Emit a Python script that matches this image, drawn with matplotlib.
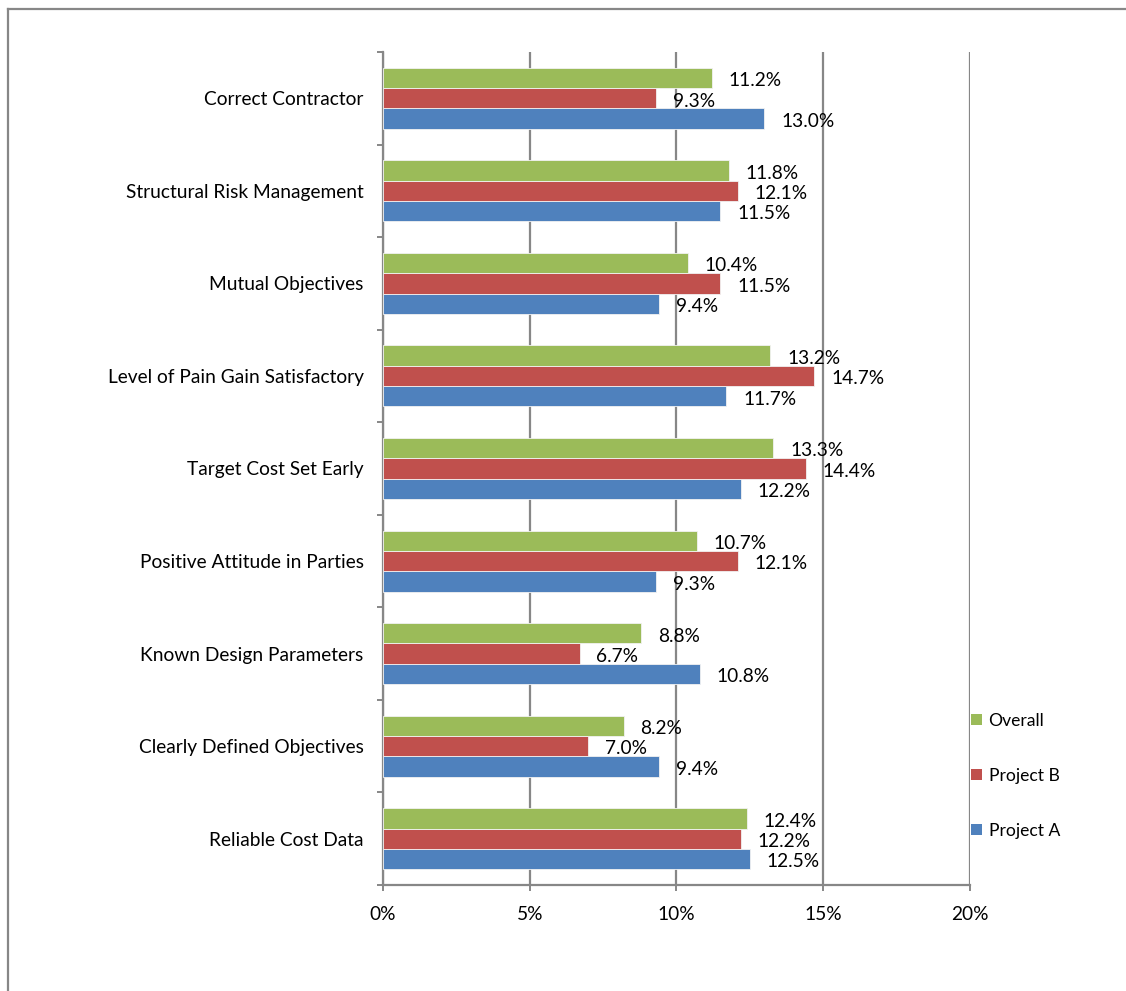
import matplotlib
matplotlib.use("Agg")
import matplotlib.pyplot as plt
from matplotlib.lines import Line2D
from matplotlib.patches import Patch
import numpy as np

# categories listed bottom to top, as drawn
categories = [
    "Reliable Cost Data",
    "Clearly Defined Objectives",
    "Known Design Parameters",
    "Positive Attitude in Parties",
    "Target Cost Set Early",
    "Level of Pain Gain Satisfactory",
    "Mutual Objectives",
    "Structural Risk Management",
    "Correct Contractor",
]
project_a = [12.5, 9.4, 10.8, 9.3, 12.2, 11.7, 9.4, 11.5, 13.0]
project_b = [12.2, 7.0, 6.7, 12.1, 14.4, 14.7, 11.5, 12.1, 9.3]
overall = [12.4, 8.2, 8.8, 10.7, 13.3, 13.2, 10.4, 11.8, 11.2]
x_ticks = [0, 5, 10, 15, 20]

plt.rcParams['font.family'] = ['Lato', 'DejaVu Sans']
FS = 13.8
GRAY = '#878787'

fig = plt.figure(figsize=(11.26, 9.91), dpi=100)
ax = fig.add_axes([0.3401, 0.1070, 0.5213, 0.8405])

y = np.arange(len(categories))
h = 0.22
series = [
    (project_a, '#4F81BD', 'Project A', -h),
    (project_b, '#C0504D', 'Project B', 0.0),
    (overall, '#9BBB59', 'Overall', h),
]
for vals, col, name, off in series:
    bars = ax.barh(y + off, vals, height=h, color=col, edgecolor='#f2f2f2',
                   linewidth=0.6, zorder=3)
    for b, v in zip(bars, vals):
        ax.annotate(f"{v:.1f}%", (b.get_width(), b.get_y() + h / 2),
                    xytext=(12, -2), textcoords='offset points',
                    ha='left', va='center', fontsize=FS, zorder=4)

ax.set_xlim(0, 20)
ax.set_ylim(-0.5, len(categories) - 0.5)
ax.set_xticks(x_ticks)
ax.set_xticklabels([f"{t}%" for t in x_ticks], fontsize=FS)
ax.set_yticks(y)
ax.set_yticklabels(categories, fontsize=FS)
ax.set_yticks(np.arange(-0.5, len(categories)), minor=True)
ax.tick_params(axis='y', which='major', length=0, pad=14)
ax.tick_params(axis='y', which='minor', length=4, width=1.4, color=GRAY)
ax.tick_params(axis='x', length=4, width=1.4, color=GRAY, pad=11)
ax.grid(axis='x', color=GRAY, linewidth=1.6, zorder=0)
for s in ['top', 'right']:
    ax.spines[s].set_visible(False)
for s in ['left', 'bottom']:
    ax.spines[s].set_color(GRAY)
    ax.spines[s].set_linewidth(1.6)

handles = [Patch(facecolor=c, edgecolor='none') for _, c, _, _ in series[::-1]]
labels = [n for _, _, n, _ in series[::-1]]
fig.legend(handles, labels, loc='upper left', bbox_to_anchor=(0.850, 0.295),
           frameon=False, fontsize=12.6, handlelength=0.65, handleheight=0.65,
           handletextpad=0.35, labelspacing=2.23, borderpad=0.3)

# outer chart border (left and top edges visible)
fig.add_artist(Line2D([0.0075, 0.0075], [0, 0.991], color=GRAY, lw=1.6))
fig.add_artist(Line2D([0.0075, 1.0], [0.991, 0.991], color=GRAY, lw=1.6))

fig.savefig("out.png", dpi=100)
